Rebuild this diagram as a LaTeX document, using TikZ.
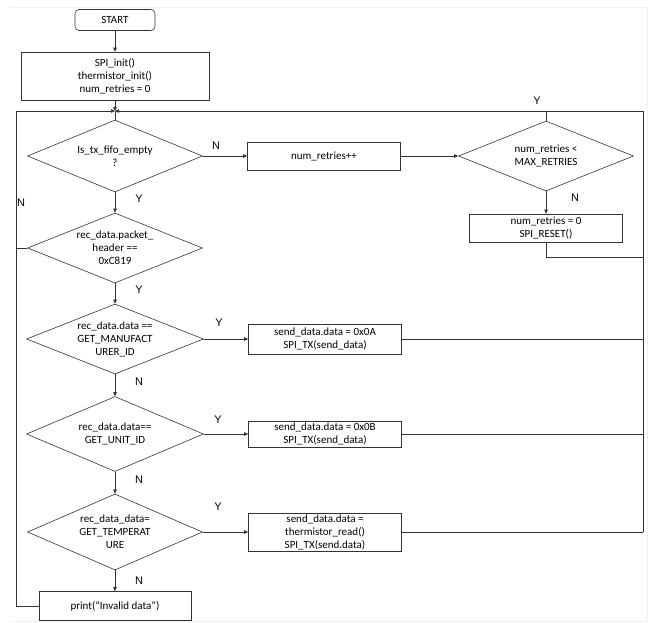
\documentclass[tikz,border=0pt]{standalone}
\usepackage{fontspec}
\setmainfont{Carlito}
\newfontfamily\labfont{Liberation Sans}
\usetikzlibrary{shapes.geometric,arrows.meta}
\begin{document}
\begin{tikzpicture}[x=1pt,y=-1pt,
  box/.style={draw=black!80, line width=0.6pt, rectangle, align=center, inner sep=0pt, font=\fontsize{11}{13}\selectfont},
  dec/.style={draw=black!80, line width=0.6pt, diamond, shape aspect=2.5, inner sep=0pt, align=center, font=\fontsize{11}{13}\selectfont},
  lbl/.style={font=\labfont\fontsize{11}{13}\selectfont, inner sep=0pt},
  arr/.style={draw=black!80, -{Triangle[length=4pt,width=3.5pt]}, line width=0.6pt},
  ln/.style={draw=black!80, line width=0.6pt}]
\useasboundingbox (0,0) rectangle (666,622);
\draw[gray!12] (10,7) -- (647,7) -- (647,621) -- (10,621);
% nodes
\node[box, rounded corners=4pt, minimum width=80pt, minimum height=21pt] (start) at (115,20) {START};
\node[box, minimum width=188pt, minimum height=48pt] (init) at (115,76) {SPI\_init()\\thermistor\_init()\\num\_retries = 0};
\coordinate (J) at (115,111);
\node[dec, minimum width=175pt, minimum height=72pt] (d1) at (115,156) {Is\_tx\_fifo\_empty\\?};
\node[box, minimum width=153pt, minimum height=28pt] (inc) at (324,156) {num\_retries++};
\node[dec, minimum width=175pt, minimum height=70pt] (dmax) at (546,156) {num\_retries <\\MAX\_RETRIES};
\node[box, minimum width=153pt, minimum height=28pt] (reset) at (546,228) {num\_retries = 0\\SPI\_RESET()};
\node[dec, minimum width=175pt, minimum height=70pt] (d2) at (115,248) {rec\_data.packet\_\\header ==\\0xC819};
\node[dec, minimum width=177pt, minimum height=70pt] (d3) at (115,339) {rec\_data.data ==\\GET\_MANUFACT\\URER\_ID};
\node[box, minimum width=153pt, minimum height=30pt] (sa) at (325,339) {send\_data.data = 0x0A\\SPI\_TX(send\_data)};
\node[dec, minimum width=177pt, minimum height=75pt] (d4) at (115,434) {rec\_data.data==\\GET\_UNIT\_ID};
\node[box, minimum width=153pt, minimum height=26pt] (sb) at (325,434) {send\_data.data = 0x0B\\SPI\_TX(send\_data)};
\node[dec, minimum width=175pt, minimum height=76pt] (d5) at (115,532) {rec\_data\_data=\\GET\_TEMPERAT\\URE};
\node[box, minimum width=153pt, minimum height=38pt] (sc) at (325,532) {send\_data.data =\\thermistor\_read()\\SPI\_TX(send.data)};
\node[box, minimum width=152pt, minimum height=29pt] (pr) at (115,606) {print(“Invalid data”)};
% loop coordinates
\coordinate (LB) at (16,606);
\coordinate (LT) at (16,111);
\coordinate (L2) at (16,248);
\coordinate (RT) at (643,111);
\coordinate (RB) at (643,532);
\coordinate (RR) at (643,257);
% connectors
\draw[arr] (start) -- (init);
\draw[arr] (init) -- (J);
\draw[ln] (J) -- (d1.north);
\draw[arr] (d1.east) -- (inc.west);
\draw[arr] (inc.east) -- (dmax.west);
\draw[ln] (dmax.north) -- (dmax.north |- RT);
\draw[arr] (dmax.south) -- (reset.north);
\draw[ln] (reset.south) |- (RR);
\draw[arr] (d1.south) -- (d2.north);
\draw[ln] (d2.west) -- (L2);
\draw[arr] (d2.south) -- (d3.north);
\draw[arr] (d3.east) -- (sa.west);
\draw[ln] (sa.east) -- (sa.east -| RB);
\draw[arr] (d3.south) -- (d4.north);
\draw[arr] (d4.east) -- (sb.west);
\draw[ln] (sb.east) -- (sb.east -| RB);
\draw[arr] (d4.south) -- (d5.north);
\draw[arr] (d5.east) -- (sc.west);
\draw[ln] (sc.east) -- (RB);
\draw[arr] (RB) -- (RT) -- (J);
\draw[arr] (d5.south) -- (pr.north);
\draw[arr] (pr.west) -- (LB) -- (LT) -- (J);
% labels
\node[lbl] (n1) at (216,146) {N};
\node[lbl] (y1) at (139,199) {Y};
\node[lbl] (n2) at (21,203) {N};
\node[lbl] (y2) at (139,290) {Y};
\node[lbl] (y3) at (219,323) {Y};
\node[lbl] (n3) at (139,382) {N};
\node[lbl] (y4) at (218,420) {Y};
\node[lbl] (n4) at (139,480) {N};
\node[lbl] (y5) at (218,507) {Y};
\node[lbl] (n5) at (139,581) {N};
\node[lbl] (y6) at (537,101) {Y};
\node[lbl] (n6) at (575,198) {N};
\end{tikzpicture}
\end{document}
